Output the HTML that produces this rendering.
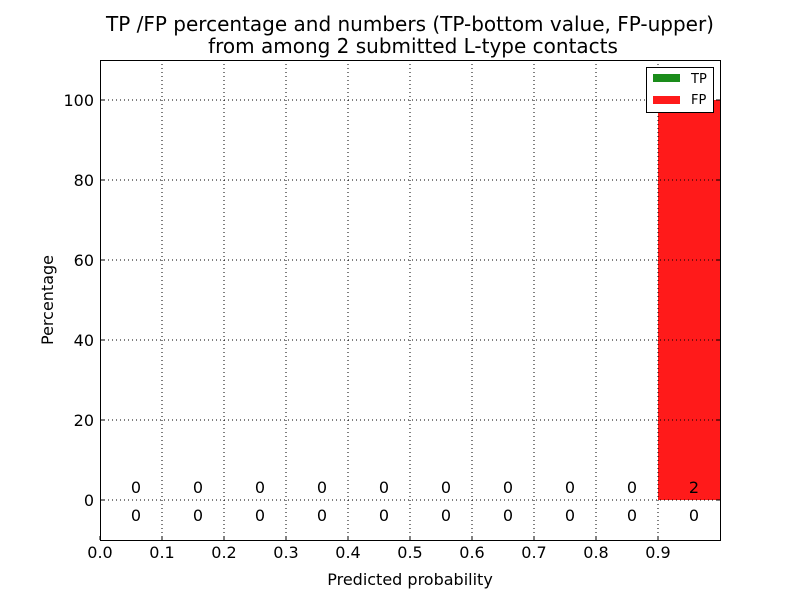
<!DOCTYPE html>
<html><head><style>body{margin:0;background:#fff}</style></head><body>
<svg width="800" height="600" xmlns="http://www.w3.org/2000/svg" font-family="DejaVu Sans, Liberation Sans, sans-serif">
<rect width="800" height="600" fill="#fff"/>
<rect x="658" y="100" width="62" height="400" fill="#ff1a1a"/>
<g stroke="#000" stroke-width="1" stroke-dasharray="1,3" fill="none">
<line x1="162" y1="60" x2="162" y2="540"/><line x1="224" y1="60" x2="224" y2="540"/><line x1="286" y1="60" x2="286" y2="540"/><line x1="348" y1="60" x2="348" y2="540"/><line x1="410" y1="60" x2="410" y2="540"/><line x1="472" y1="60" x2="472" y2="540"/><line x1="534" y1="60" x2="534" y2="540"/><line x1="596" y1="60" x2="596" y2="540"/><line x1="658" y1="60" x2="658" y2="540"/>
<line x1="100" y1="500" x2="720" y2="500"/><line x1="100" y1="420" x2="720" y2="420"/><line x1="100" y1="340" x2="720" y2="340"/><line x1="100" y1="260" x2="720" y2="260"/><line x1="100" y1="180" x2="720" y2="180"/><line x1="100" y1="100" x2="720" y2="100"/>
</g>
<rect x="100.5" y="60.5" width="620" height="480" fill="none" stroke="#000"/>
<g stroke="#000">
<line x1="100" y1="540" x2="100" y2="536"/><line x1="162" y1="540" x2="162" y2="536"/><line x1="224" y1="540" x2="224" y2="536"/><line x1="286" y1="540" x2="286" y2="536"/><line x1="348" y1="540" x2="348" y2="536"/><line x1="410" y1="540" x2="410" y2="536"/><line x1="472" y1="540" x2="472" y2="536"/><line x1="534" y1="540" x2="534" y2="536"/><line x1="596" y1="540" x2="596" y2="536"/><line x1="658" y1="540" x2="658" y2="536"/>
<line x1="100" y1="500" x2="104" y2="500"/><line x1="100" y1="420" x2="104" y2="420"/><line x1="100" y1="340" x2="104" y2="340"/><line x1="100" y1="260" x2="104" y2="260"/><line x1="100" y1="180" x2="104" y2="180"/><line x1="100" y1="100" x2="104" y2="100"/>
<line x1="720" y1="500" x2="716" y2="500"/><line x1="720" y1="420" x2="716" y2="420"/><line x1="720" y1="340" x2="716" y2="340"/><line x1="720" y1="260" x2="716" y2="260"/><line x1="720" y1="180" x2="716" y2="180"/><line x1="720" y1="100" x2="716" y2="100"/>
</g>
<g font-size="16" text-anchor="middle">
<text x="100" y="558">0.0</text><text x="162" y="558">0.1</text><text x="224" y="558">0.2</text><text x="286" y="558">0.3</text><text x="348" y="558">0.4</text><text x="410" y="558">0.5</text><text x="472" y="558">0.6</text><text x="534" y="558">0.7</text><text x="596" y="558">0.8</text><text x="658" y="558">0.9</text>
</g>
<g font-size="16" text-anchor="end">
<text x="94" y="506">0</text><text x="94" y="426">20</text><text x="94" y="346">40</text><text x="94" y="266">60</text><text x="94" y="186">80</text><text x="94" y="106">100</text>
</g>
<g font-size="16" text-anchor="middle">
<text x="136" y="493">0</text><text x="198" y="493">0</text><text x="260" y="493">0</text><text x="322" y="493">0</text><text x="384" y="493">0</text><text x="446" y="493">0</text><text x="508" y="493">0</text><text x="570" y="493">0</text><text x="632" y="493">0</text><text x="694" y="493">2</text>
<text x="136" y="521">0</text><text x="198" y="521">0</text><text x="260" y="521">0</text><text x="322" y="521">0</text><text x="384" y="521">0</text><text x="446" y="521">0</text><text x="508" y="521">0</text><text x="570" y="521">0</text><text x="632" y="521">0</text><text x="694" y="521">0</text>
</g>
<text x="410" y="585" font-size="16" text-anchor="middle">Predicted probability</text>
<text transform="translate(53,300) rotate(-90)" font-size="16" text-anchor="middle">Percentage</text>
<text x="410" y="31" font-size="20" text-anchor="middle">TP /FP percentage and numbers (TP-bottom value, FP-upper)</text>
<text x="413" y="53" font-size="20" text-anchor="middle">from among 2 submitted L-type contacts</text>
<rect x="646.5" y="67.5" width="67" height="45" fill="#fff" stroke="#000"/>
<rect x="653" y="74" width="27" height="8" fill="#1a8c1a"/>
<rect x="653" y="96" width="27" height="8" fill="#ff1a1a"/>
<text x="691" y="83" font-size="13">TP</text>
<text x="691" y="104" font-size="13">FP</text>
</svg>
</body></html>
